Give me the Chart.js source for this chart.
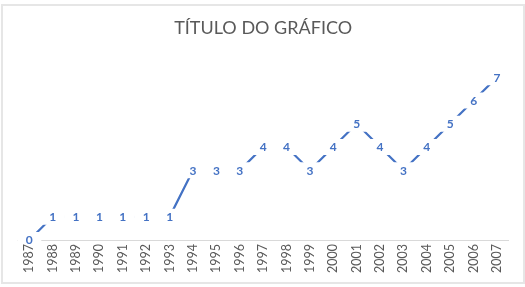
<!DOCTYPE html>
<html>
<head>
<meta charset="utf-8">
<script src="https://cdn.jsdelivr.net/npm/chart.js@4/dist/chart.umd.min.js"></script>
<style>
  html, body { margin:0; padding:0; background:#fff; }
  #wrap { position:relative; width:525px; height:287px; }
  #frame { position:absolute; left:1px; top:4px; width:520px; height:276px; border:2px solid #e6e6e6; }
  canvas { position:absolute; left:0; top:0; }
</style>
</head>
<body>
<div id="wrap">
  <div id="frame"></div>
  <canvas id="chart" width="525" height="287"></canvas>
</div>
<script>
const anos = ['1987','1988','1989','1990','1991','1992','1993','1994','1995','1996','1997',
              '1998','1999','2000','2001','2002','2003','2004','2005','2006','2007'];
const valores = [0,1,1,1,1,1,1,3,3,3,4,4,3,4,5,4,3,4,5,6,7];
const titulo = 'TÍTULO DO GRÁFICO';

const azul = '#4472C4';
const cinza = '#595959';

// rotulos de dados com fundo branco, como no Excel (tapam a linha perto do ponto)
const rotulos = {
  id:'rotulos',
  afterDatasetsDraw(chart){
    const ctx = chart.ctx;
    const area = chart.chartArea;
    const meta = chart.getDatasetMeta(0);
    ctx.save();
    ctx.beginPath();
    ctx.rect(0, 0, chart.width, area.bottom + 1);
    ctx.clip();
    ctx.fillStyle = '#fff';
    meta.data.forEach(pt => ctx.fillRect(pt.x - 12, pt.y - 8, 24, 16));
    ctx.restore();
    ctx.save();
    ctx.font = 'bold 12px Lato, "Open Sans", sans-serif';
    ctx.textAlign = 'center';
    ctx.textBaseline = 'middle';
    ctx.fillStyle = azul;
    meta.data.forEach((pt, i) => ctx.fillText(String(valores[i]), pt.x, pt.y + 0.5));
    ctx.restore();
  }
};

new Chart(document.getElementById('chart').getContext('2d'), {
  type:'line',
  data:{ labels:anos, datasets:[{ data:valores, borderColor:azul, borderWidth:2.25, pointRadius:0, tension:0, fill:false }] },
  options:{
    responsive:false, animation:false,
    layout:{ padding:{ left:17.6, right:16.3, top:0, bottom:0 } },
    plugins:{
      legend:{ display:false },
      tooltip:{ enabled:false },
      title:{ display:true, text:titulo, color:cinza,
        font:{ family:'Lato, "Open Sans", sans-serif', size:18, weight:'normal' },
        padding:{ top:17, bottom:15.4 } }
    },
    scales:{
      x:{ offset:true,
        afterFit(s){ s.height = 47; },
        grid:{ display:false, drawTicks:false },
        border:{ color:'#d9d9d9', width:1 },
        ticks:{ minRotation:90, maxRotation:90, autoSkip:false, padding:4, color:cinza,
          font:{ family:'Lato, "Open Sans", sans-serif', size:12.5 } } },
      y:{ display:false, min:0, max:8 }
    }
  },
  plugins:[rotulos]
});
</script>
</body>
</html>
